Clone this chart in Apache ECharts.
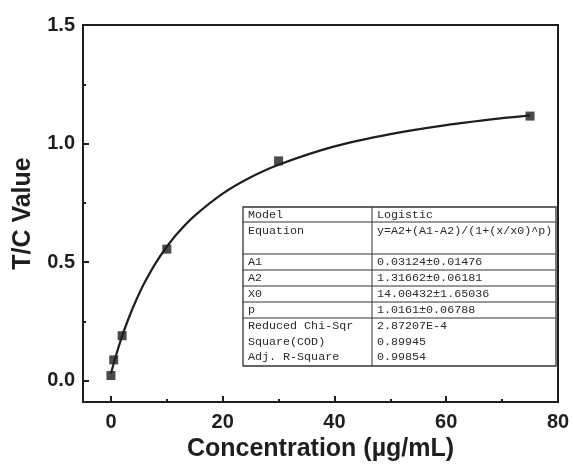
<!DOCTYPE html>
<html>
<head>
<meta charset="utf-8">
<script src="https://cdn.jsdelivr.net/npm/echarts@6/dist/echarts.min.js"></script>
<style>
html,body{margin:0;padding:0;background:#fff;}
#chart{width:573px;height:467px;}
</style>
</head>
<body>
<div id="chart"></div>
<script>
// Measured data points
const concentration = [0, 0.5, 2, 10, 30, 75];
const tcValue = [0.022, 0.088, 0.19, 0.555, 0.927, 1.116];
// Fitted logistic curve
const fitX = [0, 0.5, 1, 2, 3, 4, 5, 6, 8, 10, 12, 15, 20, 25, 30, 40, 50, 60, 70, 75];
const fitY = [0.031, 0.073, 0.114, 0.188, 0.253, 0.312, 0.365, 0.413, 0.496, 0.565, 0.624, 0.696, 0.789, 0.858, 0.911, 0.988, 1.040, 1.078, 1.107, 1.119];
// Tick labels
const xMajorTicks = [0, 20, 40, 60, 80];
const xMinorTicks = [10, 30, 50, 70];
const yMajorTicks = [0, 0.5, 1.0, 1.5];
const yMinorTicks = [0.25, 0.75, 1.25];
// Fit table
const tableLabels = ['Model', 'Equation', 'A1', 'A2', 'X0', 'p', 'Reduced Chi-Sqr', 'Square(COD)', 'Adj. R-Square'];
const tableValues = ['Logistic', 'y=A2+(A1-A2)/(1+(x/x0)^p)', '0.03124±0.01476', '1.31662±0.06181', '14.00432±1.65036', '1.0161±0.06788', '2.87207E-4', '0.89945', '0.99854'];

const chart = echarts.init(document.getElementById('chart'), null, {renderer: 'canvas'});
const ink = '#1e1e1e';
const labelFont = {fontFamily: 'Liberation Sans', fontWeight: 'bold', fontSize: 20, color: ink};
const X_MIN = -5, X_MAX = 80, Y_MIN = -0.09, Y_MAX = 1.5;

// table graphic
const tx = 243, ty = 207, tw = 313, colX = 372;
const rowCenters = [214.5, 230.5, 262, 278, 294, 310, 326, 341.5, 357];
const hLines = [222, 254, 270, 286, 302, 318];
const tableGraphic = [];
tableGraphic.push({type: 'rect', shape: {x: tx, y: ty, width: tw, height: 159}, style: {fill: '#fff', stroke: '#333', lineWidth: 1.3}, z: 100});
hLines.forEach(function (y) {
  tableGraphic.push({type: 'line', shape: {x1: tx, y1: y, x2: tx + tw, y2: y}, style: {stroke: '#333', lineWidth: 1}, z: 101});
});
tableGraphic.push({type: 'line', shape: {x1: colX, y1: ty, x2: colX, y2: ty + 159}, style: {stroke: '#333', lineWidth: 1}, z: 101});
tableLabels.forEach(function (t, i) {
  tableGraphic.push({type: 'text', x: tx + 5, y: rowCenters[i], style: {text: t, fill: '#2a2a2a', font: '11.7px "Liberation Mono"', textVerticalAlign: 'middle'}, z: 102});
  tableGraphic.push({type: 'text', x: colX + 5, y: rowCenters[i], style: {text: tableValues[i], fill: '#2a2a2a', font: '11.7px "Liberation Mono"', textVerticalAlign: 'middle'}, z: 102});
});

function tickAxis(isX, values, len) {
  return {
    type: 'value', min: isX ? X_MIN : Y_MIN, max: isX ? X_MAX : Y_MAX,
    position: isX ? 'bottom' : 'left',
    axisLine: {show: false, onZero: false},
    axisTick: {show: true, inside: true, length: len, customValues: values, lineStyle: {color: ink, width: 2}},
    axisLabel: {show: false},
    splitLine: {show: false}
  };
}

const option = {
  backgroundColor: '#fff',
  animation: false,
  grid: {left: 83, right: 15, top: 25, bottom: 61, show: true, borderColor: ink, borderWidth: 2, backgroundColor: 'transparent'},
  xAxis: [
    {
      type: 'value', min: X_MIN, max: X_MAX, position: 'bottom',
      name: 'Concentration (µg/mL)', nameLocation: 'middle', nameGap: 28,
      nameTextStyle: {fontFamily: 'Liberation Sans', fontWeight: 'bold', fontSize: 25, color: ink},
      axisLine: {show: true, onZero: false, lineStyle: {color: ink, width: 2}},
      axisTick: {show: false},
      axisLabel: Object.assign({customValues: xMajorTicks, margin: 10}, labelFont),
      splitLine: {show: false}
    },
    tickAxis(true, xMajorTicks, 6),
    tickAxis(true, xMinorTicks, 3)
  ],
  yAxis: [
    {
      type: 'value', min: Y_MIN, max: Y_MAX, position: 'left',
      name: 'T/C Value', nameLocation: 'middle', nameGap: 47,
      nameTextStyle: {fontFamily: 'Liberation Sans', fontWeight: 'bold', fontSize: 25, color: ink},
      axisLine: {show: true, onZero: false, lineStyle: {color: ink, width: 2}},
      axisTick: {show: false},
      axisLabel: Object.assign({customValues: yMajorTicks, margin: 8, formatter: function (v) { return v.toFixed(1); }}, labelFont),
      splitLine: {show: false}
    },
    tickAxis(false, yMajorTicks, 6),
    tickAxis(false, yMinorTicks, 3)
  ],
  series: [
    {
      type: 'line', xAxisIndex: 0, yAxisIndex: 0,
      data: fitX.map(function (x, i) { return [x, fitY[i]]; }),
      smooth: 0.3, showSymbol: false, symbol: 'none',
      lineStyle: {color: ink, width: 2.2}, z: 2
    },
    {
      type: 'scatter', xAxisIndex: 0, yAxisIndex: 0,
      data: concentration.map(function (x, i) { return [x, tcValue[i]]; }),
      symbol: 'rect', symbolSize: 9,
      itemStyle: {color: ink}, z: 3
    }
  ],
  graphic: tableGraphic
};
chart.setOption(option);
</script>
</body>
</html>
